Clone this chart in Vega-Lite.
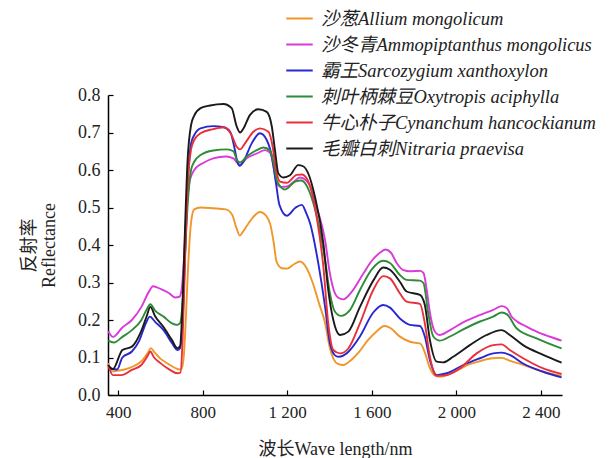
{
"$schema": "https://vega.github.io/schema/vega-lite/v6.json",
"width": 454, "height": 300,
"autosize": {"type": "none"},
"padding": {"left": 108, "top": 95, "right": 49, "bottom": 63},
"background": "white",
"config": {"view": {"stroke": null}, "font": "Liberation Serif"},
"datasets": {
"names": [
{"k":"A","name":"沙葱Allium mongolicum"},
{"k":"B","name":"沙冬青Ammopiptanthus mongolicus"},
{"k":"C","name":"霸王Sarcozygium xanthoxylon"},
{"k":"D","name":"刺叶柄棘豆Oxytropis aciphylla"},
{"k":"E","name":"牛心朴子Cynanchum hancockianum"},
{"k":"F","name":"毛瓣白刺Nitraria praevisa"}
]},
"data": {"values": [
{"k":"A","w":353,"r":0.085},{"k":"A","w":370,"r":0.063},{"k":"A","w":400,"r":0.065},{"k":"A","w":430,"r":0.068},{"k":"A","w":470,"r":0.076},{"k":"A","w":510,"r":0.09},{"k":"A","w":540,"r":0.112},{"k":"A","w":555,"r":0.125},{"k":"A","w":570,"r":0.115},{"k":"A","w":600,"r":0.097},{"k":"A","w":640,"r":0.082},{"k":"A","w":670,"r":0.072},{"k":"A","w":690,"r":0.068},{"k":"A","w":700,"r":0.07},{"k":"A","w":710,"r":0.1},{"k":"A","w":720,"r":0.2},{"k":"A","w":730,"r":0.33},{"k":"A","w":745,"r":0.46},{"k":"A","w":760,"r":0.495},{"k":"A","w":790,"r":0.5},{"k":"A","w":850,"r":0.498},{"k":"A","w":910,"r":0.495},{"k":"A","w":940,"r":0.48},{"k":"A","w":960,"r":0.445},{"k":"A","w":975,"r":0.425},{"k":"A","w":990,"r":0.435},{"k":"A","w":1010,"r":0.452},{"k":"A","w":1040,"r":0.475},{"k":"A","w":1070,"r":0.488},{"k":"A","w":1100,"r":0.478},{"k":"A","w":1120,"r":0.455},{"k":"A","w":1135,"r":0.41},{"k":"A","w":1150,"r":0.355},{"k":"A","w":1175,"r":0.338},{"k":"A","w":1200,"r":0.337},{"k":"A","w":1230,"r":0.348},{"k":"A","w":1260,"r":0.356},{"k":"A","w":1290,"r":0.34},{"k":"A","w":1320,"r":0.3},{"k":"A","w":1350,"r":0.245},{"k":"A","w":1380,"r":0.19},{"k":"A","w":1400,"r":0.13},{"k":"A","w":1420,"r":0.095},{"k":"A","w":1440,"r":0.083},{"k":"A","w":1465,"r":0.08},{"k":"A","w":1500,"r":0.092},{"k":"A","w":1540,"r":0.115},{"k":"A","w":1580,"r":0.145},{"k":"A","w":1620,"r":0.168},{"k":"A","w":1660,"r":0.184},{"k":"A","w":1690,"r":0.178},{"k":"A","w":1730,"r":0.157},{"k":"A","w":1780,"r":0.142},{"k":"A","w":1830,"r":0.137},{"k":"A","w":1850,"r":0.115},{"k":"A","w":1875,"r":0.072},{"k":"A","w":1900,"r":0.052},{"k":"A","w":1930,"r":0.049},{"k":"A","w":1960,"r":0.054},{"k":"A","w":2000,"r":0.064},{"k":"A","w":2050,"r":0.079},{"k":"A","w":2110,"r":0.09},{"k":"A","w":2170,"r":0.098},{"k":"A","w":2215,"r":0.099},{"k":"A","w":2255,"r":0.091},{"k":"A","w":2320,"r":0.08},{"k":"A","w":2410,"r":0.062},{"k":"A","w":2498,"r":0.051},
{"k":"B","w":353,"r":0.17},{"k":"B","w":375,"r":0.155},{"k":"B","w":420,"r":0.18},{"k":"B","w":465,"r":0.2},{"k":"B","w":510,"r":0.235},{"k":"B","w":545,"r":0.275},{"k":"B","w":565,"r":0.29},{"k":"B","w":600,"r":0.283},{"k":"B","w":640,"r":0.272},{"k":"B","w":670,"r":0.26},{"k":"B","w":690,"r":0.262},{"k":"B","w":700,"r":0.28},{"k":"B","w":710,"r":0.35},{"k":"B","w":720,"r":0.46},{"k":"B","w":735,"r":0.56},{"k":"B","w":750,"r":0.59},{"k":"B","w":770,"r":0.607},{"k":"B","w":800,"r":0.618},{"k":"B","w":850,"r":0.631},{"k":"B","w":910,"r":0.636},{"k":"B","w":945,"r":0.631},{"k":"B","w":962,"r":0.62},{"k":"B","w":977,"r":0.614},{"k":"B","w":1008,"r":0.631},{"k":"B","w":1056,"r":0.644},{"k":"B","w":1095,"r":0.653},{"k":"B","w":1120,"r":0.645},{"k":"B","w":1135,"r":0.61},{"k":"B","w":1150,"r":0.565},{"k":"B","w":1170,"r":0.555},{"k":"B","w":1200,"r":0.556},{"k":"B","w":1230,"r":0.568},{"k":"B","w":1260,"r":0.58},{"k":"B","w":1290,"r":0.572},{"k":"B","w":1310,"r":0.555},{"k":"B","w":1340,"r":0.5},{"k":"B","w":1380,"r":0.41},{"k":"B","w":1400,"r":0.33},{"k":"B","w":1420,"r":0.28},{"k":"B","w":1440,"r":0.26},{"k":"B","w":1465,"r":0.255},{"k":"B","w":1505,"r":0.275},{"k":"B","w":1560,"r":0.324},{"k":"B","w":1600,"r":0.358},{"k":"B","w":1640,"r":0.38},{"k":"B","w":1665,"r":0.388},{"k":"B","w":1690,"r":0.38},{"k":"B","w":1720,"r":0.35},{"k":"B","w":1750,"r":0.333},{"k":"B","w":1780,"r":0.33},{"k":"B","w":1830,"r":0.331},{"k":"B","w":1845,"r":0.325},{"k":"B","w":1860,"r":0.28},{"k":"B","w":1875,"r":0.22},{"k":"B","w":1895,"r":0.173},{"k":"B","w":1920,"r":0.16},{"k":"B","w":1970,"r":0.173},{"k":"B","w":2030,"r":0.193},{"k":"B","w":2110,"r":0.213},{"k":"B","w":2175,"r":0.227},{"k":"B","w":2215,"r":0.237},{"k":"B","w":2240,"r":0.231},{"k":"B","w":2260,"r":0.21},{"k":"B","w":2290,"r":0.195},{"k":"B","w":2320,"r":0.186},{"k":"B","w":2380,"r":0.169},{"k":"B","w":2440,"r":0.156},{"k":"B","w":2498,"r":0.145},
{"k":"C","w":353,"r":0.072},{"k":"C","w":395,"r":0.068},{"k":"C","w":420,"r":0.1},{"k":"C","w":465,"r":0.116},{"k":"C","w":500,"r":0.145},{"k":"C","w":530,"r":0.19},{"k":"C","w":550,"r":0.209},{"k":"C","w":575,"r":0.195},{"k":"C","w":615,"r":0.173},{"k":"C","w":655,"r":0.138},{"k":"C","w":680,"r":0.12},{"k":"C","w":693,"r":0.125},{"k":"C","w":705,"r":0.2},{"k":"C","w":715,"r":0.35},{"k":"C","w":728,"r":0.55},{"k":"C","w":745,"r":0.67},{"k":"C","w":760,"r":0.693},{"k":"C","w":790,"r":0.711},{"k":"C","w":850,"r":0.717},{"k":"C","w":900,"r":0.714},{"k":"C","w":930,"r":0.702},{"k":"C","w":950,"r":0.66},{"k":"C","w":965,"r":0.62},{"k":"C","w":975,"r":0.611},{"k":"C","w":992,"r":0.622},{"k":"C","w":1032,"r":0.671},{"k":"C","w":1071,"r":0.698},{"k":"C","w":1103,"r":0.68},{"k":"C","w":1127,"r":0.636},{"k":"C","w":1147,"r":0.564},{"k":"C","w":1163,"r":0.507},{"k":"C","w":1198,"r":0.478},{"k":"C","w":1240,"r":0.5},{"k":"C","w":1269,"r":0.507},{"k":"C","w":1290,"r":0.485},{"k":"C","w":1308,"r":0.458},{"k":"C","w":1347,"r":0.351},{"k":"C","w":1379,"r":0.235},{"k":"C","w":1402,"r":0.138},{"k":"C","w":1430,"r":0.104},{"k":"C","w":1445,"r":0.102},{"k":"C","w":1481,"r":0.111},{"k":"C","w":1544,"r":0.156},{"k":"C","w":1607,"r":0.22},{"k":"C","w":1654,"r":0.24},{"k":"C","w":1686,"r":0.233},{"k":"C","w":1733,"r":0.204},{"k":"C","w":1780,"r":0.187},{"k":"C","w":1828,"r":0.184},{"k":"C","w":1851,"r":0.156},{"k":"C","w":1875,"r":0.093},{"k":"C","w":1907,"r":0.053},{"k":"C","w":1954,"r":0.058},{"k":"C","w":2033,"r":0.08},{"k":"C","w":2112,"r":0.098},{"k":"C","w":2174,"r":0.111},{"k":"C","w":2214,"r":0.113},{"k":"C","w":2253,"r":0.107},{"k":"C","w":2316,"r":0.084},{"k":"C","w":2411,"r":0.062},{"k":"C","w":2498,"r":0.047},
{"k":"D","w":353,"r":0.145},{"k":"D","w":380,"r":0.14},{"k":"D","w":420,"r":0.155},{"k":"D","w":465,"r":0.173},{"k":"D","w":510,"r":0.2},{"k":"D","w":535,"r":0.228},{"k":"D","w":552,"r":0.242},{"k":"D","w":575,"r":0.225},{"k":"D","w":615,"r":0.209},{"k":"D","w":655,"r":0.191},{"k":"D","w":680,"r":0.187},{"k":"D","w":693,"r":0.192},{"k":"D","w":705,"r":0.25},{"k":"D","w":715,"r":0.36},{"k":"D","w":728,"r":0.5},{"k":"D","w":745,"r":0.6},{"k":"D","w":760,"r":0.622},{"k":"D","w":790,"r":0.64},{"k":"D","w":850,"r":0.652},{"k":"D","w":915,"r":0.655},{"k":"D","w":945,"r":0.65},{"k":"D","w":962,"r":0.627},{"k":"D","w":977,"r":0.62},{"k":"D","w":1008,"r":0.636},{"k":"D","w":1056,"r":0.653},{"k":"D","w":1087,"r":0.66},{"k":"D","w":1119,"r":0.652},{"k":"D","w":1134,"r":0.622},{"k":"D","w":1153,"r":0.569},{"k":"D","w":1190,"r":0.548},{"k":"D","w":1237,"r":0.569},{"k":"D","w":1265,"r":0.572},{"k":"D","w":1290,"r":0.56},{"k":"D","w":1308,"r":0.538},{"k":"D","w":1347,"r":0.458},{"k":"D","w":1379,"r":0.36},{"k":"D","w":1402,"r":0.271},{"k":"D","w":1426,"r":0.222},{"k":"D","w":1455,"r":0.211},{"k":"D","w":1497,"r":0.227},{"k":"D","w":1544,"r":0.28},{"k":"D","w":1600,"r":0.335},{"k":"D","w":1654,"r":0.358},{"k":"D","w":1686,"r":0.352},{"k":"D","w":1733,"r":0.32},{"k":"D","w":1765,"r":0.307},{"k":"D","w":1828,"r":0.305},{"k":"D","w":1845,"r":0.298},{"k":"D","w":1867,"r":0.218},{"k":"D","w":1891,"r":0.156},{"k":"D","w":1922,"r":0.145},{"k":"D","w":1970,"r":0.156},{"k":"D","w":2033,"r":0.175},{"k":"D","w":2112,"r":0.196},{"k":"D","w":2174,"r":0.209},{"k":"D","w":2214,"r":0.22},{"k":"D","w":2240,"r":0.215},{"k":"D","w":2285,"r":0.178},{"k":"D","w":2380,"r":0.151},{"k":"D","w":2498,"r":0.124},
{"k":"E","w":353,"r":0.08},{"k":"E","w":375,"r":0.053},{"k":"E","w":415,"r":0.053},{"k":"E","w":465,"r":0.067},{"k":"E","w":510,"r":0.08},{"k":"E","w":540,"r":0.105},{"k":"E","w":552,"r":0.116},{"k":"E","w":570,"r":0.1},{"k":"E","w":600,"r":0.085},{"k":"E","w":645,"r":0.067},{"k":"E","w":680,"r":0.058},{"k":"E","w":695,"r":0.06},{"k":"E","w":705,"r":0.15},{"k":"E","w":715,"r":0.33},{"k":"E","w":728,"r":0.55},{"k":"E","w":745,"r":0.655},{"k":"E","w":760,"r":0.68},{"k":"E","w":790,"r":0.698},{"k":"E","w":850,"r":0.709},{"k":"E","w":900,"r":0.714},{"k":"E","w":937,"r":0.693},{"k":"E","w":961,"r":0.662},{"k":"E","w":977,"r":0.655},{"k":"E","w":1000,"r":0.671},{"k":"E","w":1040,"r":0.702},{"k":"E","w":1071,"r":0.711},{"k":"E","w":1111,"r":0.702},{"k":"E","w":1131,"r":0.662},{"k":"E","w":1147,"r":0.6},{"k":"E","w":1166,"r":0.569},{"k":"E","w":1198,"r":0.566},{"k":"E","w":1245,"r":0.587},{"k":"E","w":1270,"r":0.588},{"k":"E","w":1300,"r":0.569},{"k":"E","w":1339,"r":0.476},{"k":"E","w":1371,"r":0.342},{"k":"E","w":1394,"r":0.191},{"k":"E","w":1418,"r":0.12},{"k":"E","w":1450,"r":0.111},{"k":"E","w":1489,"r":0.124},{"k":"E","w":1544,"r":0.191},{"k":"E","w":1607,"r":0.28},{"k":"E","w":1654,"r":0.317},{"k":"E","w":1686,"r":0.311},{"k":"E","w":1733,"r":0.271},{"k":"E","w":1765,"r":0.249},{"k":"E","w":1828,"r":0.243},{"k":"E","w":1851,"r":0.191},{"k":"E","w":1875,"r":0.102},{"k":"E","w":1907,"r":0.051},{"k":"E","w":1954,"r":0.053},{"k":"E","w":2017,"r":0.071},{"k":"E","w":2096,"r":0.111},{"k":"E","w":2174,"r":0.133},{"k":"E","w":2214,"r":0.135},{"k":"E","w":2253,"r":0.12},{"k":"E","w":2316,"r":0.098},{"k":"E","w":2411,"r":0.071},{"k":"E","w":2498,"r":0.056},
{"k":"F","w":353,"r":0.08},{"k":"F","w":375,"r":0.069},{"k":"F","w":420,"r":0.12},{"k":"F","w":465,"r":0.129},{"k":"F","w":505,"r":0.165},{"k":"F","w":535,"r":0.21},{"k":"F","w":552,"r":0.235},{"k":"F","w":575,"r":0.21},{"k":"F","w":614,"r":0.182},{"k":"F","w":654,"r":0.147},{"k":"F","w":680,"r":0.125},{"k":"F","w":693,"r":0.13},{"k":"F","w":705,"r":0.25},{"k":"F","w":715,"r":0.42},{"k":"F","w":728,"r":0.62},{"k":"F","w":745,"r":0.72},{"k":"F","w":760,"r":0.745},{"k":"F","w":790,"r":0.765},{"k":"F","w":835,"r":0.772},{"k":"F","w":898,"r":0.776},{"k":"F","w":937,"r":0.765},{"k":"F","w":961,"r":0.716},{"k":"F","w":977,"r":0.7},{"k":"F","w":992,"r":0.71},{"k":"F","w":1024,"r":0.747},{"k":"F","w":1063,"r":0.762},{"k":"F","w":1103,"r":0.755},{"k":"F","w":1127,"r":0.716},{"k":"F","w":1142,"r":0.653},{"k":"F","w":1158,"r":0.591},{"k":"F","w":1182,"r":0.58},{"k":"F","w":1213,"r":0.586},{"k":"F","w":1252,"r":0.613},{"k":"F","w":1275,"r":0.61},{"k":"F","w":1300,"r":0.59},{"k":"F","w":1331,"r":0.529},{"k":"F","w":1371,"r":0.404},{"k":"F","w":1394,"r":0.28},{"k":"F","w":1418,"r":0.2},{"k":"F","w":1450,"r":0.16},{"k":"F","w":1489,"r":0.169},{"k":"F","w":1544,"r":0.235},{"k":"F","w":1607,"r":0.305},{"k":"F","w":1654,"r":0.34},{"k":"F","w":1686,"r":0.334},{"k":"F","w":1733,"r":0.302},{"k":"F","w":1765,"r":0.276},{"k":"F","w":1828,"r":0.267},{"k":"F","w":1851,"r":0.24},{"k":"F","w":1875,"r":0.147},{"k":"F","w":1907,"r":0.089},{"k":"F","w":1938,"r":0.087},{"k":"F","w":1985,"r":0.102},{"k":"F","w":2064,"r":0.133},{"k":"F","w":2143,"r":0.16},{"k":"F","w":2214,"r":0.173},{"k":"F","w":2253,"r":0.16},{"k":"F","w":2316,"r":0.133},{"k":"F","w":2411,"r":0.107},{"k":"F","w":2498,"r":0.086}
]},
"transform": [{"lookup": "k", "from": {"data": {"name": "names"}, "key": "k", "fields": ["name"]}}],
"mark": {"type": "line", "interpolate": "monotone", "strokeWidth": 1.9},
"encoding": {
"x": {"field": "w", "type": "quantitative",
 "scale": {"domain": [352, 2500], "nice": false, "zero": false},
 "axis": {"orient": "bottom", "values": [400, 800, 1200, 1600, 2000, 2400],
  "labelExpr": "replace(format(datum.value, ','), ',', ' ')",
  "title": "波长Wave length/nm", "grid": false,
  "ticks": true, "tickSize": -5, "tickColor": "black", "tickWidth": 1.2,
  "domainColor": "black", "domainWidth": 1.5,
  "labelFont": "Liberation Serif", "labelFontSize": 17, "labelColor": "#222", "labelPadding": 14,
  "titleFont": "Liberation Serif, Noto Sans CJK SC", "titleFontSize": 18, "titleFontWeight": "normal", "titleColor": "#222", "titlePadding": 20}},
"y": {"field": "r", "type": "quantitative",
 "scale": {"domain": [0, 0.8], "nice": false},
 "axis": {"orient": "left", "values": [0, 0.1, 0.2, 0.3, 0.4, 0.5, 0.6, 0.7, 0.8], "format": ".1f",
  "title": ["反射率", "Reflectance"], "grid": false,
  "ticks": true, "tickSize": -5, "tickColor": "black", "tickWidth": 1.2,
  "domainColor": "black", "domainWidth": 1.5,
  "labelFont": "Liberation Serif", "labelFontSize": 18, "labelColor": "#222", "labelPadding": 13,
  "titleFont": "Liberation Serif, Noto Sans CJK SC", "titleFontSize": 18, "titleFontWeight": "normal", "titleColor": "#222", "titlePadding": 19, "titleLineHeight": 20}},
"color": {"field": "name", "type": "nominal",
 "scale": {"domain": ["沙葱Allium mongolicum", "沙冬青Ammopiptanthus mongolicus", "霸王Sarcozygium xanthoxylon", "刺叶柄棘豆Oxytropis aciphylla", "牛心朴子Cynanchum hancockianum", "毛瓣白刺Nitraria praevisa"],
  "range": ["#F0962A", "#D93BD9", "#2828D0", "#2E8B37", "#E8303A", "#1A1A1A"]},
 "legend": {"orient": "none", "legendX": 177, "legendY": -91, "title": null, "padding": 0,
  "symbolType": "stroke", "symbolSize": 700, "symbolStrokeWidth": 2,
  "labelFont": "Liberation Serif, Noto Sans CJK SC", "labelFontStyle": "italic", "labelFontSize": 18.5, "labelColor": "#222",
  "labelOffset": 7, "labelLimit": 400, "rowPadding": 2}}
}
}
